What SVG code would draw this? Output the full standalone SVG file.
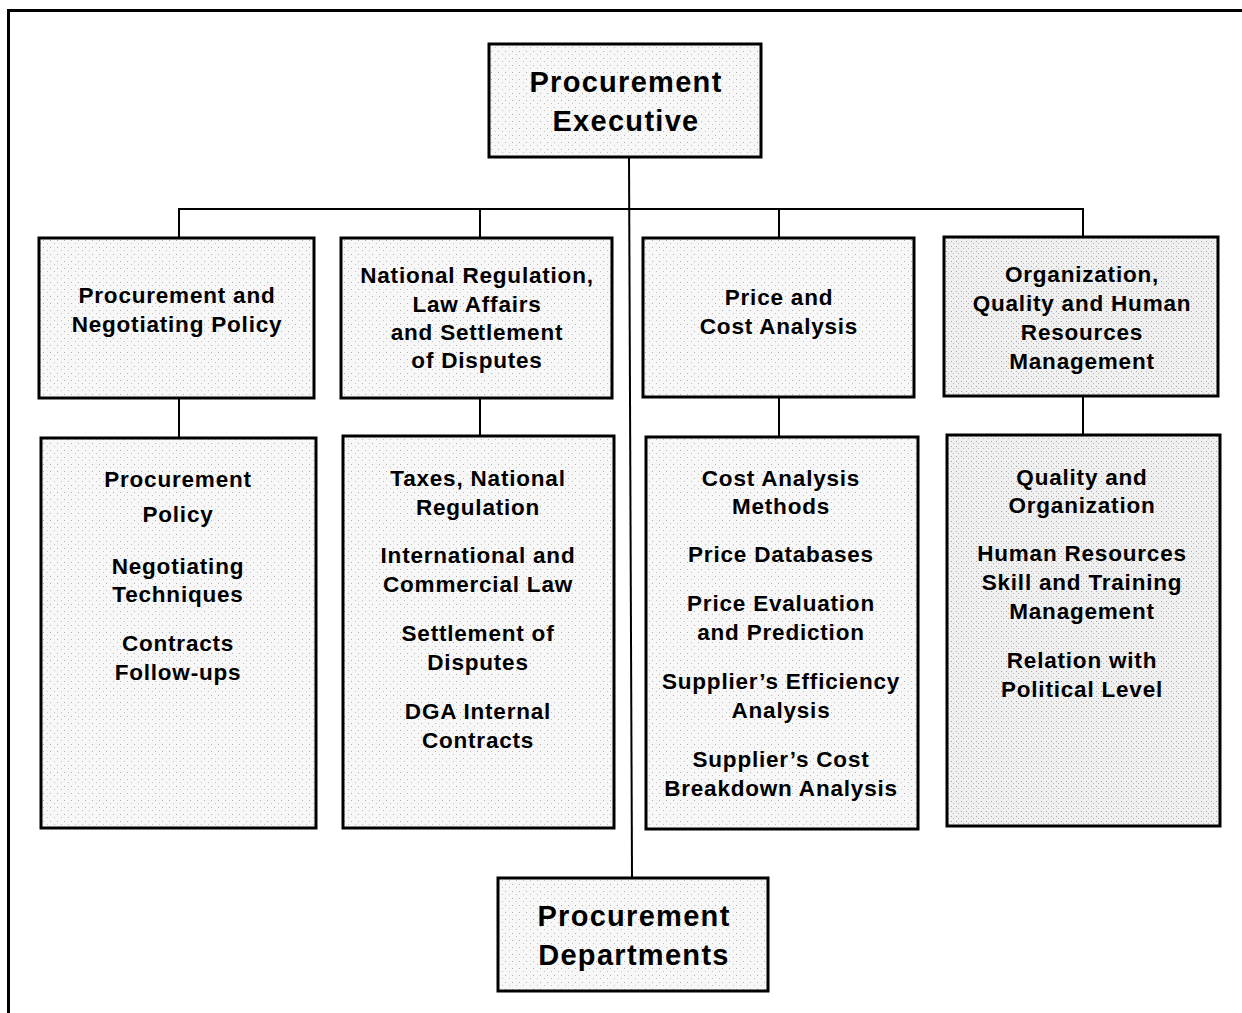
<svg xmlns="http://www.w3.org/2000/svg" width="1242" height="1013" viewBox="0 0 1242 1013">
<style>
  .box { stroke: #000; stroke-width: 3; }
  .lt { fill: url(#dots); }
  .dk { fill: url(#dots2); }
  .conn { stroke: #000; stroke-width: 2; fill: none; }
  .frame { stroke: #000; stroke-width: 3; fill: none; }
  text { font-family: "Liberation Sans", Arial, sans-serif; font-weight: bold; fill: #000; text-anchor: middle; }
  .big { font-size: 29px; letter-spacing: 1.3px; }
  .t { font-size: 22.5px; letter-spacing: 0.8px; }
</style>
<defs>
  <pattern id="dots" width="7" height="7" patternUnits="userSpaceOnUse">
    <rect width="7" height="7" fill="#f7f7f7"/>
    <rect x="1" y="2" width="1" height="1" fill="#b0b0b0"/>
    <rect x="5" y="5" width="1" height="1" fill="#c0c0c0"/>
  </pattern>
  <pattern id="dots2" width="5" height="5" patternUnits="userSpaceOnUse">
    <rect width="5" height="5" fill="#f0f0f0"/>
    <rect x="1" y="1" width="1" height="1" fill="#a8a8a8"/>
    <rect x="3" y="3" width="1" height="1" fill="#b8b8b8"/>
  </pattern>
</defs>
<rect width="1242" height="1013" fill="#fff"/>
<path class="frame" d="M8.5,1013 V10.5 H1242"/>

<g id="connectors">
  <line class="conn" x1="629" y1="157" x2="632" y2="878"/>
  <polyline class="conn" points="179,238 179,209 1083,209 1083,237"/>
  <line class="conn" x1="480" y1="209" x2="480" y2="238"/>
  <line class="conn" x1="779" y1="209" x2="779" y2="238"/>
  <line class="conn" x1="179" y1="398" x2="179" y2="438"/>
  <line class="conn" x1="480" y1="398" x2="480" y2="436"/>
  <line class="conn" x1="779" y1="397" x2="779" y2="437"/>
  <line class="conn" x1="1083" y1="396" x2="1083" y2="435"/>
</g>

<g id="exec">
  <rect class="box lt" x="489" y="44" width="272" height="113"/>
  <text class="big" x="626" y="92">Procurement</text>
  <text class="big" x="626" y="131">Executive</text>
</g>

<g id="l1a">
  <rect class="box lt" x="39" y="238" width="275" height="160"/>
  <text class="t" x="177" y="303">Procurement and</text>
  <text class="t" x="177" y="332">Negotiating Policy</text>
</g>
<g id="l1b">
  <rect class="box lt" x="341" y="238" width="271" height="160"/>
  <text class="t" x="477" y="283">National Regulation,</text>
  <text class="t" x="477" y="312">Law Affairs</text>
  <text class="t" x="477" y="340">and Settlement</text>
  <text class="t" x="477" y="368">of Disputes</text>
</g>
<g id="l1c">
  <rect class="box lt" x="643" y="238" width="271" height="159"/>
  <text class="t" x="779" y="305">Price and</text>
  <text class="t" x="779" y="334">Cost Analysis</text>
</g>
<g id="l1d">
  <rect class="box dk" x="944" y="237" width="274" height="159"/>
  <text class="t" x="1082" y="282">Organization,</text>
  <text class="t" x="1082" y="311">Quality and Human</text>
  <text class="t" x="1082" y="340">Resources</text>
  <text class="t" x="1082" y="369">Management</text>
</g>

<g id="l2a">
  <rect class="box lt" x="41" y="438" width="275" height="390"/>
  <text class="t" x="178" y="487">Procurement</text>
  <text class="t" x="178" y="522">Policy</text>
  <text class="t" x="178" y="574">Negotiating</text>
  <text class="t" x="178" y="602">Techniques</text>
  <text class="t" x="178" y="651">Contracts</text>
  <text class="t" x="178" y="680">Follow-ups</text>
</g>
<g id="l2b">
  <rect class="box lt" x="343" y="436" width="271" height="392"/>
  <text class="t" x="478" y="486">Taxes, National</text>
  <text class="t" x="478" y="515">Regulation</text>
  <text class="t" x="478" y="563">International and</text>
  <text class="t" x="478" y="592">Commercial Law</text>
  <text class="t" x="478" y="641">Settlement of</text>
  <text class="t" x="478" y="670">Disputes</text>
  <text class="t" x="478" y="719">DGA Internal</text>
  <text class="t" x="478" y="748">Contracts</text>
</g>
<g id="l2c">
  <rect class="box lt" x="646" y="437" width="272" height="392"/>
  <text class="t" x="781" y="486">Cost Analysis</text>
  <text class="t" x="781" y="514">Methods</text>
  <text class="t" x="781" y="562">Price Databases</text>
  <text class="t" x="781" y="611">Price Evaluation</text>
  <text class="t" x="781" y="640">and Prediction</text>
  <text class="t" x="781" y="689">Supplier’s Efficiency</text>
  <text class="t" x="781" y="718">Analysis</text>
  <text class="t" x="781" y="767">Supplier’s Cost</text>
  <text class="t" x="781" y="796">Breakdown Analysis</text>
</g>
<g id="l2d">
  <rect class="box dk" x="947" y="435" width="273" height="391"/>
  <text class="t" x="1082" y="485">Quality and</text>
  <text class="t" x="1082" y="513">Organization</text>
  <text class="t" x="1082" y="561">Human Resources</text>
  <text class="t" x="1082" y="590">Skill and Training</text>
  <text class="t" x="1082" y="619">Management</text>
  <text class="t" x="1082" y="668">Relation with</text>
  <text class="t" x="1082" y="697">Political Level</text>
</g>

<g id="depts">
  <rect class="box lt" x="498" y="878" width="270" height="113"/>
  <text class="big" x="634" y="926">Procurement</text>
  <text class="big" x="634" y="965">Departments</text>
</g>
</svg>
